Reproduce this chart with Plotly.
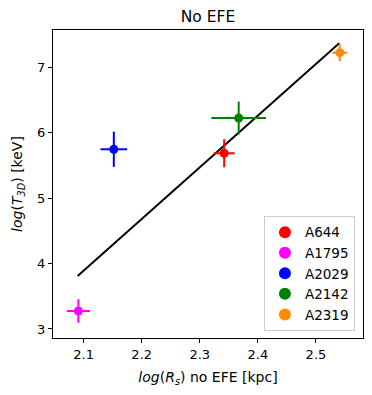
import plotly.graph_objects as go

names = ["A644", "A1795", "A2029", "A2142", "A2319"]
colors = ["#ff0000", "#ff00ff", "#0000ff", "#008000", "#ff8c00"]
x_vals = [2.342, 2.091, 2.152, 2.367, 2.541]
y_vals = [5.687, 3.275, 5.748, 6.226, 7.225]
x_err = [0.018, 0.020, 0.023, 0.047, 0.013]
y_err = [0.214, 0.18, 0.27, 0.25, 0.13]

fit_x = [2.0897, 2.540]
fit_y = [3.81, 7.369]

font = "DejaVu Sans"
fig = go.Figure()
fig.add_trace(go.Scatter(x=fit_x, y=fit_y, mode="lines",
                         line=dict(color="black", width=2), showlegend=False,
                         hoverinfo="skip"))
for n, c, x, y, ex, ey in zip(names, colors, x_vals, y_vals, x_err, y_err):
    fig.add_trace(go.Scatter(
        x=[x], y=[y], mode="markers", name=n,
        marker=dict(color=c, size=9),
        error_x=dict(type="data", array=[ex], color=c, thickness=2, width=0),
        error_y=dict(type="data", array=[ey], color=c, thickness=2, width=0),
    ))

axis_common = dict(showline=True, linecolor="black", linewidth=1, mirror=True,
                   ticks="outside", ticklen=4, tickcolor="black", showgrid=False,
                   zeroline=False, automargin=False,
                   tickfont=dict(family=font, size=13, color="black"))
fig.update_xaxes(range=[2.0473, 2.581], tick0=2.1, dtick=0.1,
                 title=dict(text="<i>log</i>(<i>R<sub>s</sub></i>) no EFE [kpc]",
                            font=dict(family=font, size=14, color="black"), standoff=11),
                 **axis_common)
fig.update_yaxes(range=[2.862, 7.572], tick0=3, dtick=1,
                 title=dict(text="<i>log</i>(<i>T</i><sub><i>3D</i></sub>) [keV]",
                            font=dict(family=font, size=14, color="black"), standoff=11),
                 **axis_common)
# page body has an 8px margin: plot area at page x 53-363, y 30-338
fig.update_layout(
    width=372, height=395,
    margin=dict(l=45, r=17, t=22, b=65, autoexpand=False),
    paper_bgcolor="white", plot_bgcolor="white",
    title=dict(text="No EFE", x=0.5376, xanchor="center", y=0.978, yanchor="middle",
               font=dict(family=font, size=15.5, color="black")),
    legend=dict(x=0.974, y=0.023, xanchor="right", yanchor="bottom",
                bgcolor="rgba(255,255,255,0.8)", bordercolor="#cccccc", borderwidth=1,
                font=dict(family=font, size=13.5, color="black"),
                itemsizing="constant", tracegroupgap=0),
)
fig.write_html("out.html")
